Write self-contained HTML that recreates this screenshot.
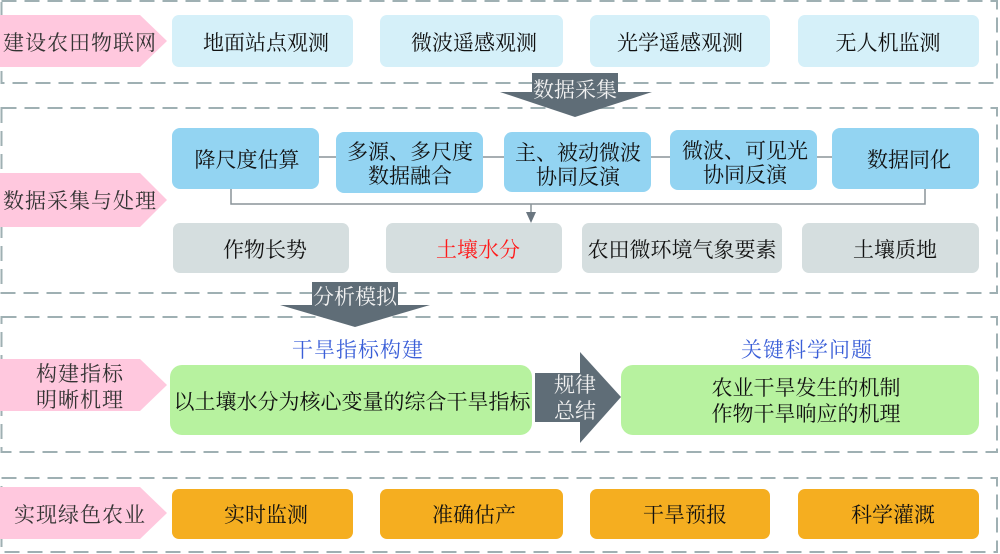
<!DOCTYPE html>
<html><head><meta charset="utf-8"><style>
html,body{margin:0;padding:0;background:#fff;}
svg{display:block;}
text{font-family:"Liberation Serif","Noto Serif CJK SC","Noto Sans CJK SC",serif;font-size:21px;}
</style></head><body>
<svg width="1000" height="554" viewBox="0 0 1000 554" xmlns="http://www.w3.org/2000/svg">
<g fill="#111">
<g fill="none" stroke="#9fb0b3" stroke-width="2" stroke-dasharray="15 8">
<rect x="1.5" y="1" width="995.5" height="82"/>
<rect x="1.5" y="108" width="995.5" height="185"/>
<rect x="1.5" y="317" width="995.5" height="135"/>
<rect x="1.5" y="478" width="995.5" height="74"/>
</g>
<!-- pink labels -->
<g fill="#ffc8de">
<polygon points="0,15 140,15 167,41 140,67 0,67"/>
<polygon points="0,173 140,173 167,200 140,227 0,227"/>
<polygon points="0,359 140,359 167,385 140,411 0,411"/>
<polygon points="0,487 140,487 167,513 140,539 0,539"/>
</g>
<g fill="#333" text-anchor="middle" dominant-baseline="central" style="letter-spacing:1px">
<text x="80" y="43">建设农田物联网</text>
<text x="80" y="201">数据采集与处理</text>
<text x="80" y="374">构建指标</text>
<text x="80" y="400">明晰机理</text>
<text x="80" y="515">实现绿色农业</text>
</g>
<!-- row1 -->
<g fill="#d5f0f9">
<rect x="172" y="15" width="181" height="52" rx="7"/>
<rect x="380" y="15" width="183" height="52" rx="7"/>
<rect x="590" y="15" width="180" height="52" rx="7"/>
<rect x="798" y="15" width="181" height="52" rx="7"/>
</g>
<g text-anchor="middle" dominant-baseline="central" fill="#111">
<text x="266" y="43">地面站点观测</text>
<text x="474" y="43">微波遥感观测</text>
<text x="680" y="43">光学遥感观测</text>
<text x="888" y="43">无人机监测</text>
</g>
<!-- connectors row2 -->
<g stroke="#8a9499" stroke-width="1.5" fill="none">
<line x1="319" y1="157" x2="336" y2="157"/>
<line x1="483" y1="157" x2="504" y2="157"/>
<line x1="651" y1="157" x2="670" y2="157"/>
<line x1="817" y1="157" x2="832" y2="157"/>
<path d="M231 189 V204 H925 V189"/>
<line x1="531" y1="204" x2="531" y2="214"/>
</g>
<polygon points="526,212 536,212 531,223" fill="#6a7680"/>
<!-- row2 blue -->
<g fill="#93d4f2">
<rect x="172" y="128" width="147" height="61" rx="8"/>
<rect x="336" y="132" width="147" height="61" rx="8"/>
<rect x="504" y="132" width="147" height="60" rx="8"/>
<rect x="670" y="130" width="147" height="60" rx="8"/>
<rect x="832" y="128" width="147" height="61" rx="8"/>
</g>
<g text-anchor="middle" dominant-baseline="central" fill="#111">
<text x="247" y="160">降尺度估算</text>
<text x="410" y="152">多源、多尺度</text>
<text x="410" y="176">数据融合</text>
<text x="578" y="153">主、被动微波</text>
<text x="578" y="177">协同反演</text>
<text x="745" y="151">微波、可见光</text>
<text x="745" y="175">协同反演</text>
<text x="909" y="160">数据同化</text>
</g>
<!-- row2 gray -->
<g fill="#d5dedf">
<rect x="173" y="223" width="176" height="50" rx="7"/>
<rect x="386" y="223" width="176" height="50" rx="7"/>
<rect x="582" y="223" width="200" height="50" rx="7"/>
<rect x="802" y="223" width="177" height="50" rx="7"/>
</g>
<g text-anchor="middle" dominant-baseline="central" fill="#111">
<text x="265" y="250">作物长势</text>
<text x="478" y="250" fill="#ff1a1a">土壤水分</text>
<text x="682" y="250">农田微环境气象要素</text>
<text x="895" y="250">土壤质地</text>
</g>
<!-- arrow 数据采集 -->
<rect x="532" y="73" width="86" height="20" fill="#5f6d77"/>
<polygon points="500,92 652,92 575,117" fill="#5f6d77"/>
<text x="575" y="90" text-anchor="middle" dominant-baseline="central" fill="#f2f2f2">数据采集</text>
<!-- arrow 分析模拟 -->
<rect x="312" y="282" width="86" height="24" fill="#5f6d77"/>
<polygon points="280,305 430,305 355,327" fill="#5f6d77"/>
<text x="355" y="297" text-anchor="middle" dominant-baseline="central" fill="#f2f2f2">分析模拟</text>
<!-- section 3 -->
<text x="358" y="350" text-anchor="middle" dominant-baseline="central" fill="#3b5fd8" style="letter-spacing:1px">干旱指标构建</text>
<text x="807" y="350" text-anchor="middle" dominant-baseline="central" fill="#3b5fd8" style="letter-spacing:1px">关键科学问题</text>
<rect x="170" y="365" width="362" height="70" rx="12" fill="#b7f29f"/>
<rect x="621" y="365" width="358" height="70" rx="12" fill="#b7f29f"/>
<text x="352" y="402" text-anchor="middle" dominant-baseline="central" fill="#111">以土壤水分为核心变量的综合干旱指标</text>
<text x="806" y="388" text-anchor="middle" dominant-baseline="central" fill="#111">农业干旱发生的机制</text>
<text x="806" y="414" text-anchor="middle" dominant-baseline="central" fill="#111">作物干旱响应的机理</text>
<rect x="535" y="373" width="46" height="49" fill="#5f6d77"/>
<polygon points="580,352 621,397 580,443" fill="#5f6d77"/>
<text x="575" y="385" text-anchor="middle" dominant-baseline="central" fill="#f2f2f2">规律</text>
<text x="575" y="411" text-anchor="middle" dominant-baseline="central" fill="#f2f2f2">总结</text>
<!-- section 4 -->
<g fill="#f5ae20">
<rect x="172" y="489" width="181" height="50" rx="7"/>
<rect x="380" y="489" width="183" height="50" rx="7"/>
<rect x="590" y="489" width="180" height="50" rx="7"/>
<rect x="798" y="489" width="181" height="50" rx="7"/>
</g>
<g text-anchor="middle" dominant-baseline="central" fill="#111">
<text x="266" y="515">实时监测</text>
<text x="474" y="515">准确估产</text>
<text x="685" y="515">干旱预报</text>
<text x="893" y="515">科学灌溉</text>
</g>
</g>
</svg>
</body></html>
